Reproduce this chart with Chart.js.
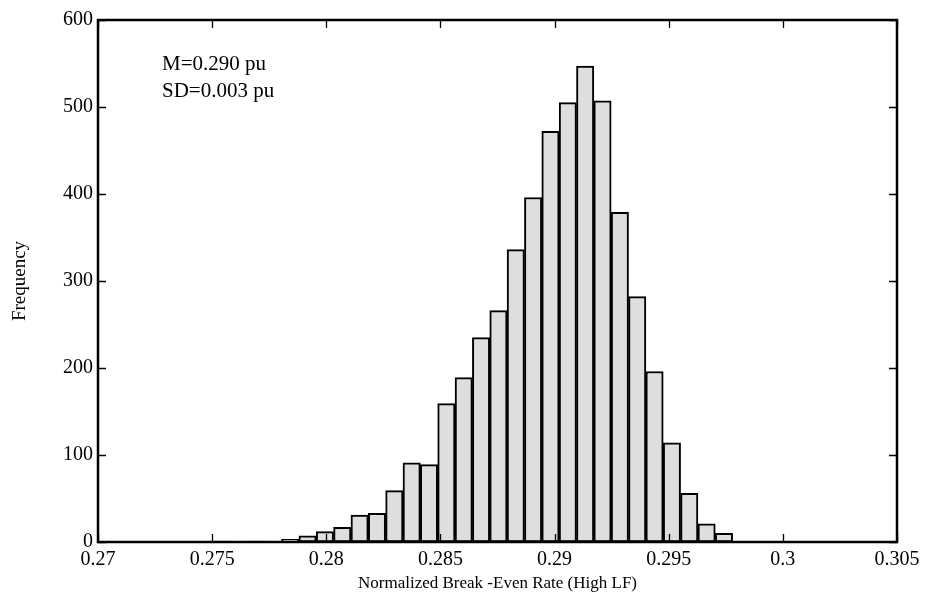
<!DOCTYPE html>
<html><head><meta charset="utf-8">
<script src="https://cdn.jsdelivr.net/npm/chart.js@4/dist/chart.umd.min.js"></script>
<style>html,body{margin:0;padding:0;background:#fff}</style>
</head><body>
<canvas id="c" width="942" height="596"></canvas>
<script>
// Bin centers (pu)
const binCenters = [0.27538,0.27614,0.27690,0.27766,
  0.27842,0.27918,0.27994,0.28070,0.28146,0.28222,0.28298,0.28374,0.28450,0.28526,
  0.28602,0.28678,0.28754,0.28830,0.28906,0.28982,0.29058,0.29134,0.29210,0.29286,
  0.29362,0.29438,0.29514,0.29590,0.29666,0.29742];
// Frequencies
const frequencies = [1,null,1,null,
  3,7,12,17,31,33,59,91,89,159,
  189,235,266,336,396,472,505,547,507,379,
  282,196,114,56,21,10];
const xTickValues = [0.27,0.275,0.28,0.285,0.29,0.295,0.3,0.305];
const xTickLabels = ['0.27','0.275','0.28','0.285','0.29','0.295','0.3','0.305'];
const yTickValues = [0,100,200,300,400,500,600];
const annotationLines = ['M=0.290 pu','SD=0.003 pu'];

const FONT = '"Liberation Serif", "Times New Roman", serif';

const framePlugin = {
  id: 'frame',
  afterDatasetsDraw(chart) {
    const {ctx, chartArea: a, scales: {x, y}} = chart;
    ctx.save();
    ctx.strokeStyle = '#000';
    ctx.lineWidth = 2.5;
    ctx.strokeRect(a.left, a.top, a.right - a.left, a.bottom - a.top);
    ctx.lineWidth = 1.3;
    const tl = 8;
    ctx.beginPath();
    xTickValues.forEach(v => {
      const px = Math.round(x.getPixelForValue(v)) + 0.5;
      ctx.moveTo(px, a.bottom); ctx.lineTo(px, a.bottom - tl);
      ctx.moveTo(px, a.top); ctx.lineTo(px, a.top + tl);
    });
    yTickValues.forEach(v => {
      const py = Math.round(y.getPixelForValue(v)) + 0.5;
      ctx.moveTo(a.left, py); ctx.lineTo(a.left + tl, py);
      ctx.moveTo(a.right, py); ctx.lineTo(a.right - tl, py);
    });
    ctx.stroke();
    // annotation
    ctx.fillStyle = '#000';
    ctx.font = '21px ' + FONT;
    ctx.textBaseline = 'alphabetic';
    ctx.textAlign = 'left';
    annotationLines.forEach((t, i) => {
      ctx.fillText(t, a.left + 64, a.top + 50 + i * 27);
    });
    ctx.restore();
  }
};

new Chart(document.getElementById('c'), {
  type: 'bar',
  data: {
    datasets: [{
      data: binCenters.map((c, i) => ({x: c, y: frequencies[i]})),
      backgroundColor: '#dedede',
      borderColor: '#000',
      borderWidth: 2,
      borderSkipped: false,
      barPercentage: 1,
      categoryPercentage: 1,
      grouped: false
    }]
  },
  options: {
    responsive: false,
    animation: false,
    devicePixelRatio: 1,
    layout: {padding: {top: 20, right: 45, left: 0, bottom: 0}},
    plugins: {legend: {display: false}, tooltip: {enabled: false}},
    scales: {
      x: {
        type: 'linear', min: 0.27, max: 0.305, offset: false,
        grid: {display: false, drawTicks: false},
        border: {display: false},
        afterBuildTicks: s => { s.ticks = xTickValues.map(v => ({value: v})); },
        afterFit: s => { s.height = 54; },
        ticks: {
          padding: 6, color: '#000', maxRotation: 0, autoSkip: false,
          font: {family: FONT, size: 20},
          callback: (v, i) => xTickLabels[i]
        },
        title: {display: true, text: 'Normalized Break -Even Rate (High LF)', color: '#000',
          font: {family: FONT, size: 17}, padding: {top: 0, bottom: 2}}
      },
      y: {
        min: 0, max: 600,
        grid: {display: false, drawTicks: false},
        border: {display: false},
        afterBuildTicks: s => { s.ticks = yTickValues.map(v => ({value: v})); },
        afterFit: s => { s.width = 98; },
        ticks: {padding: 5, color: '#000', font: {family: FONT, size: 20}},
        title: {display: true, text: 'Frequency', color: '#000',
          font: {family: FONT, size: 19}, padding: {top: 9, bottom: 0}}
      }
    }
  },
  plugins: [framePlugin]
});
</script>
</body></html>
